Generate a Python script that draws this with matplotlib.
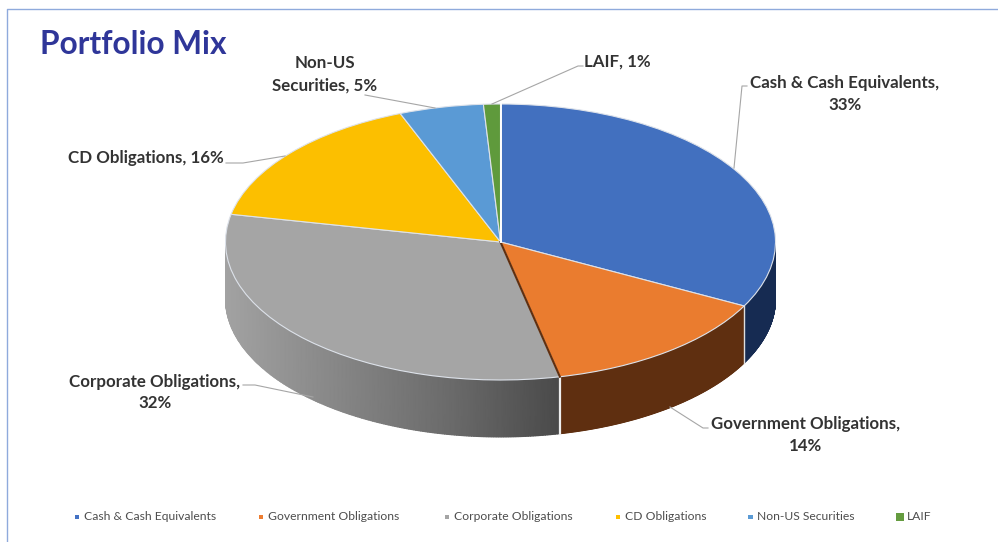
import matplotlib
matplotlib.use("Agg")
import matplotlib.pyplot as plt
from matplotlib.colors import LinearSegmentedColormap
import numpy as np

categories = ['Cash & Cash Equivalents', 'Government Obligations', 'Corporate Obligations',
              'CD Obligations', 'Non-US Securities', 'LAIF']
shares = [33, 14, 32, 16, 5, 1]
top_colors = ['#4270bf', '#ea7c2f', '#a5a5a5', '#fcbf00', '#5a9ad5', '#5f9a3c']
key_colors = ['#4472c4', '#ed7d31', '#a5a5a5', '#ffc000', '#5b9bd5', '#659c3f']
key_x = [77, 261, 447, 618, 750.5, 900]
key_text_x = [84, 268, 454, 625, 757, 907]
key_sizes = [12, 12, 12, 12, 12, 33]

W, H = 998, 542
DEPTH = 0.413  # thickness of the disc, in pie radii
TEXT = '#333333'
plt.rcParams['font.family'] = ['Lato', 'DejaVu Sans']


def draw_wall(ax, theta1, theta2, cmap, xmax=1.0):
  # only the part of the rim facing the viewer
  t0, t1 = max(theta1, -180), min(theta2, 0)
  if t0 >= t1:
    return
  t = np.radians(np.linspace(t0, t1, 200))
  X = np.vstack([np.cos(t), np.cos(t)])
  Y = np.vstack([np.sin(t), np.sin(t) - DEPTH])
  C = (X + 1) / 2 / xmax
  mesh = ax.pcolormesh(X, Y, C, cmap=cmap, vmin=0, vmax=1, shading='gouraud', zorder=1)
  mesh.set_clip_on(False)


fig = plt.figure(figsize=(W / 100, H / 100), dpi=100, facecolor='white')

# the pie axes span exactly the top ellipse
ax = fig.add_axes([225.5 / W, (H - 380) / H, 550 / W, 276 / H])
wedges, _ = ax.pie(shares, colors=top_colors, startangle=90, counterclock=False,
                   wedgeprops={'edgecolor': '#dde2ea', 'linewidth': 0.8, 'zorder': 3})
for w in wedges:
  w.set_clip_on(False)

gray_wall = LinearSegmentedColormap.from_list('gray_wall', ['#a2a2a2', '#868686', '#6a6a6a', '#484848'])
blue_wall = LinearSegmentedColormap.from_list('blue_wall', ['#162b52', '#162b52'])
orange_wall = LinearSegmentedColormap.from_list('orange_wall', ['#5f2f10', '#5f2f10'])

draw_wall(ax, wedges[0].theta1, wedges[0].theta2, blue_wall)
draw_wall(ax, wedges[1].theta1, wedges[1].theta2, orange_wall)
draw_wall(ax, wedges[2].theta1, wedges[2].theta2, gray_wall, xmax=0.62)

ax.set_aspect('auto')
ax.set_xlim(-1, 1)
ax.set_ylim(-1, 1)

# pale seams between the wall sections
t = np.radians(wedges[0].theta1)
ax.plot([np.cos(t)] * 2, [np.sin(t), np.sin(t) - DEPTH], color='#dedede', lw=1.0,
        clip_on=False, zorder=2)
t = np.radians(wedges[1].theta1)
ax.plot([np.cos(t)] * 2, [np.sin(t), np.sin(t) - DEPTH], color='#eeeeee', lw=1.6,
        clip_on=False, zorder=2)

# cut face of the orange slice and the gap next to the blue one
t = np.radians(wedges[1].theta1)
ax.plot([0, np.cos(t)], [0, np.sin(t)], color='#5f2f10', lw=1.5, clip_on=False, zorder=4)
t = np.radians(wedges[0].theta2)
ax.plot([0, np.cos(t)], [0, np.sin(t)], color='white', lw=1.4, clip_on=False, zorder=4)

# overlay in pixel units for the frame, the labels and the key
ov = fig.add_axes([0, 0, 1, 1], facecolor='none')
ov.set_xlim(0, W)
ov.set_ylim(H, 0)
ov.axis('off')

ov.plot([7.5, 7.5, W], [H, 9, 9], color='#8faadc', lw=1.0)
ov.text(40, 45, 'Portfolio Mix', color='#2f3699', fontsize=22.8, fontweight='bold', va='center', ha='left')

leaders = [
  ([734, 742, 747], [168, 86, 86]),
  ([492, 578, 583], [104, 66, 66]),
  ([365, 435], [95, 108]),
  ([226, 243, 285], [163, 163, 156]),
  ([243, 255, 313], [385, 385, 397]),
  ([670, 703, 708], [407, 428, 428]),
]
for xs, ys in leaders:
  ov.plot(xs, ys, color='#a6a6a6', lw=0.8, zorder=5)

label_font = {'fontsize': 12.2, 'fontweight': 'bold', 'color': TEXT, 'va': 'center'}
ov.text(845, 83, 'Cash & Cash Equivalents,', ha='center', **label_font)
ov.text(845, 105, '33%', ha='center', **label_font)
ov.text(584, 62, 'LAIF, 1%', ha='left', **label_font)
ov.text(325, 63, 'Non-US', ha='center', **label_font)
ov.text(325, 86, 'Securities, 5%', ha='center', **label_font)
ov.text(224, 158, 'CD Obligations, 16%', ha='right', **label_font)
ov.text(155, 382, 'Corporate Obligations,', ha='center', **label_font)
ov.text(155, 403, '32%', ha='center', **label_font)
ov.text(806, 424, 'Government Obligations,', ha='center', **label_font)
ov.text(806, 446, '14%', ha='center', **label_font)

ov.scatter(key_x, [517] * len(key_x), s=key_sizes, marker='s', c=key_colors, linewidths=0)
for name, x in zip(categories, key_text_x):
  ov.text(x, 517, name, fontsize=8.7, color='#4d4d4d', va='center', ha='left')

fig.savefig('out.png', dpi=100)
